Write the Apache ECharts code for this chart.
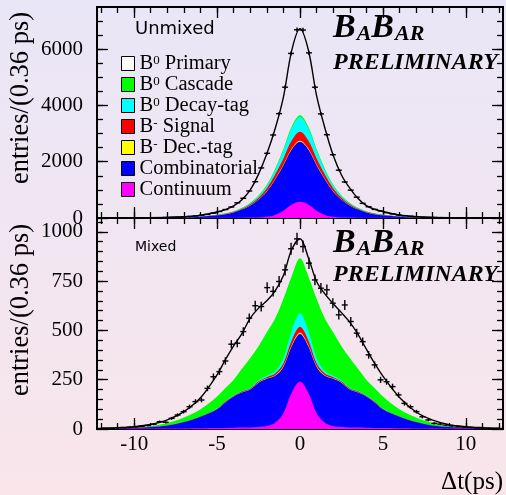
<!DOCTYPE html>
<html><head><meta charset="utf-8">
<script src="https://cdn.jsdelivr.net/npm/echarts@6/dist/echarts.min.js"></script>
<style>html,body{margin:0;padding:0;}#c{width:506px;height:495px;}</style>
</head><body><div id="c"></div>
<script>
// ---- curve grid (Δt, ps) ----
const tGrid = [-12,-11,-10,-9,-8,-7,-6,-5,-4.5,-4,-3.5,-3,-2.5,-2,-1.5,-1,-0.5,0,0.5,1,1.5,2,2.5,3,3.5,4,4.5,5,6,7,8,9,10,11,12];

// ---- Unmixed (top) components ----
const unmixContinuum   = [0,1,1,1,1,2,3,5,6,8,10,14,22,45,110,260,480,580,480,260,110,45,22,14,10,8,6,5,3,2,1,1,1,1,0];
const unmixCombinat    = [1,1,2,5,9,19,43,91,131,191,288,431,626,899,1261,1614,1958,2130,1958,1614,1261,899,626,431,288,191,131,91,43,19,9,5,2,1,1];
const unmixBmDectag    = [0,0,0,0,0,0,1,1,2,3,4,6,9,12,18,24,30,34,30,24,18,12,9,6,4,3,2,1,1,0,0,0,0,0,0];
const unmixBmSignal    = [0,0,0,0,1,2,4,9,13,18,28,42,66,102,156,219,283,319,283,219,156,102,66,42,28,18,13,9,4,2,1,0,0,0,0];
const unmixB0Dectag    = [0,0,0,0,1,1,3,6,8,13,20,32,54,91,164,285,443,531,443,285,164,91,54,32,20,13,8,6,3,1,1,0,0,0,0];
const unmixB0Cascade   = [0,0,0,0,0,1,1,3,5,7,10,16,23,31,41,48,55,55,55,48,41,31,23,16,10,7,5,3,1,1,0,0,0,0,0];
const unmixB0Primary   = [1,2,4,6,10,20,40,100,135,190,290,459,760,1100,1420,1850,2701,3081,2731,1900,1450,1050,730,519,330,200,145,115,50,23,10,6,4,2,1];

// ---- Mixed (bottom) components ----
const mixContinuum  = [1,1,2,2,3,3,4,5,5,6,7,8,10,15,32,80,185,240,185,80,32,15,10,8,7,6,5,5,4,3,3,2,2,1,1];
const mixCombinat   = [1,2,4,8,15,32,58,95,130,159,178,192,225,240,238,235,235,242,235,235,238,240,225,192,178,159,130,95,58,32,15,8,4,2,1];
const mixBmDectag   = [0,0,0,0,0,0,0,1,1,1,1,1,2,2,3,4,5,6,5,4,3,2,2,1,1,1,1,1,0,0,0,0,0,0,0];
const mixBmSignal   = [0,0,0,0,0,1,1,2,3,3,4,4,5,6,8,14,25,31,25,14,8,6,5,4,4,3,3,2,1,1,0,0,0,0,0];
const mixB0Dectag   = [0,0,0,0,0,1,1,2,2,3,3,4,5,7,12,26,50,68,50,26,12,7,5,4,3,3,2,2,1,1,0,0,0,0,0];
const mixB0Cascade  = [0,1,2,5,12,21,36,60,67,78,112,151,173,220,267,301,275,279,275,301,267,220,173,151,112,78,67,60,36,21,12,5,2,1,0];
const mixB0Primary  = [2,3,4,8,16,30,58,110,144,172,179,202,193,160,140,118,135,99,95,88,125,145,170,182,175,155,125,103,60,28,15,7,4,3,2];

// ---- data points (bin centres, 0.36 ps bins) ----
const binCenters = [-12.06,-11.70,-11.34,-10.98,-10.62,-10.26,-9.90,-9.54,-9.18,-8.82,-8.46,-8.10,-7.74,-7.38,-7.02,-6.66,-6.30,-5.94,-5.58,-5.22,-4.86,-4.50,-4.14,-3.78,-3.42,-3.06,-2.70,-2.34,-1.98,-1.62,-1.26,-0.90,-0.54,-0.18,0.18,0.54,0.90,1.26,1.62,1.98,2.34,2.70,3.06,3.42,3.78,4.14,4.50,4.86,5.22,5.58,5.94,6.30,6.66,7.02,7.38,7.74,8.10,8.46,8.82,9.18,9.54,9.90,10.26,10.62,10.98,11.34,11.70,12.06];
const unmixedCounts = [2,3,3,5,5,6,8,9,11,14,17,21,27,34,44,58,75,98,130,172,232,300,390,540,700,960,1290,1780,2300,2950,3710,4650,5850,6690,6680,5870,4650,3700,2960,2250,1700,1280,990,740,520,400,305,250,190,145,105,82,62,47,36,28,21,17,13,11,9,7,6,5,4,3,3,2];
const mixedCounts   = [3,4,4,6,7,9,11,14,18,24,37,34,54,71,88,113,139,147,206,265,291,345,430,435,494,562,625,621,717,698,748,807,914,964,925,841,756,714,706,638,579,629,545,486,443,376,325,249,240,215,173,130,113,88,62,46,29,25,20,16,12,10,8,6,5,4,3,3];

// ---- ticks ----
const xMajor = [-10,-5,0,5,10];
const xMinor = [-12,-11,-10,-9,-8,-7,-6,-5,-4,-3,-2,-1,0,1,2,3,4,5,6,7,8,9,10,11,12];
const yTopMajor = [0,2000,4000,6000];
const yTopMinor = [500,1000,1500,2000,2500,3000,3500,4000,4500,5000,5500,6000,6500,7000];
const yBotMajor = [0,250,500,750,1000];
const yBotMinor = [50,100,150,200,250,300,350,400,450,500,550,600,650,700,750,800,850,900,950,1000,1050];

// stacking order bottom -> top
const names = ['Continuum','Combinatorial','B- Dec.-tag','B- Signal','B0 Decay-tag','B0 Cascade','B0 Primary'];
const colors = ['#ff00ff','#0000ff','#ffff00','#ff0000','#00ffff','#00ff00','#ffffff'];
const legendNames = ['B0 Primary','B0 Cascade','B0 Decay-tag','B- Signal','B- Dec.-tag','Combinatorial','Continuum'];
const legendText = {
  'B0 Primary':'{t|B}{s|0}{t| Primary}',
  'B0 Cascade':'{t|B}{s|0}{t| Cascade}',
  'B0 Decay-tag':'{t|B}{s|0}{t| Decay-tag}',
  'B- Signal':'{t|B}{s|-}{t| Signal}',
  'B- Dec.-tag':'{t|B}{s|-}{t| Dec.-tag}',
  'Combinatorial':'{t|Combinatorial}',
  'Continuum':'{t|Continuum}'
};

const SERIF = 'Liberation Serif';
const XMIN = -12.24, XMAX = 12.24;

function xAxis(grid, pos, vals, len, labels){
  return {type:'value', gridIndex:grid, position:pos, min:XMIN, max:XMAX,
    axisLine:{show:true, onZero:false, lineStyle:{color:'#000', width:2}},
    axisTick:{show:true, inside:true, length:len, customValues:vals, lineStyle:{color:'#000', width:1.3}},
    axisLabel:{show:labels, customValues:vals, margin:5, color:'#000', fontFamily:SERIF, fontSize:21, formatter:v=>String(v)},
    splitLine:{show:false}};
}
function yAxis(grid, pos, max, vals, len, labels){
  return {type:'value', gridIndex:grid, position:pos, min:0, max:max,
    axisLine:{show:true, onZero:false, lineStyle:{color:'#000', width:2}},
    axisTick:{show:true, inside:true, length:len, customValues:vals, lineStyle:{color:'#000', width:1.3}},
    axisLabel:{show:labels, customValues:vals, margin:14, color:'#000', fontFamily:SERIF, fontSize:21, formatter:v=>String(v)},
    splitLine:{show:false}};
}

const comps = {
  top:[unmixContinuum,unmixCombinat,unmixBmDectag,unmixBmSignal,unmixB0Dectag,unmixB0Cascade,unmixB0Primary],
  bot:[mixContinuum,mixCombinat,mixBmDectag,mixBmSignal,mixB0Dectag,mixB0Cascade,mixB0Primary]
};

// cumulative stack tops (built from the component arrays)
function cumulate(list){
  const out = []; let run = tGrid.map(()=>0);
  list.forEach(arr=>{ run = run.map((v,j)=>v+arr[j]); out.push(run.slice()); });
  return out;
}

const series = [];
[['top',0],['bot',4]].forEach(([key, ax])=>{
  const cum = cumulate(comps[key]);
  // filled areas drawn from the highest layer down so lower layers paint over
  for(let i=5;i>=0;i--){
    series.push({
      type:'line', name:names[i], xAxisIndex:ax, yAxisIndex:ax,
      data: tGrid.map((t,j)=>[t, cum[i][j]]),
      smooth:0.35, symbol:'none', showSymbol:false, silent:true,
      itemStyle:{color:colors[i]},
      lineStyle:{width:0, opacity:0},
      areaStyle:{color:colors[i], opacity:1},
      z:2
    });
  }
  series.push({
    type:'line', name:names[6], xAxisIndex:ax, yAxisIndex:ax,
    data: tGrid.map((t,j)=>[t, cum[6][j]]),
    smooth:0.35, symbol:'none', showSymbol:false, silent:true,
    itemStyle:{color:colors[6]},
    lineStyle:{color:'#000', width:1.4},
    z:4
  });
});

function renderPt(params, api){
  const x = api.value(0), y = api.value(1);
  const e = Math.sqrt(Math.max(y,1));
  const l = api.coord([x-0.18, y]), r = api.coord([x+0.18, y]);
  const t = api.coord([x, y+e]), b = api.coord([x, y-e]);
  const st = {stroke:'#000', lineWidth:1.4};
  return {type:'group', children:[
    {type:'line', shape:{x1:l[0],y1:l[1],x2:r[0],y2:r[1]}, style:st},
    {type:'line', shape:{x1:t[0],y1:t[1],x2:b[0],y2:b[1]}, style:st}
  ]};
}
series.push({type:'custom', name:'dataTop', xAxisIndex:0, yAxisIndex:0, clip:true, z:6, silent:true,
  renderItem:renderPt, data: binCenters.map((x,i)=>[x, unmixedCounts[i]])});
series.push({type:'custom', name:'dataBot', xAxisIndex:4, yAxisIndex:4, clip:true, z:6, silent:true,
  renderItem:renderPt, data: binCenters.map((x,i)=>[x, mixedCounts[i]])});

const option = {
  animation:false,
  backgroundColor:{type:'linear', x:0, y:0, x2:0, y2:1, colorStops:[
    {offset:0, color:'#e9e6f7'}, {offset:1, color:'#f9e5ea'}]},
  grid:[
    {left:97, right:3, top:7, height:211},
    {left:97, right:3, top:218, height:211}
  ],
  xAxis:[
    xAxis(0,'bottom',xMajor,11,false), xAxis(0,'bottom',xMinor,6,false),
    xAxis(0,'top',xMajor,11,false), xAxis(0,'top',xMinor,6,false),
    xAxis(1,'bottom',xMajor,11,true), xAxis(1,'bottom',xMinor,6,false),
    xAxis(1,'top',xMajor,11,false), xAxis(1,'top',xMinor,6,false)
  ],
  yAxis:[
    yAxis(0,'left',7500,yTopMajor,11,true), yAxis(0,'left',7500,yTopMinor,6,false),
    yAxis(0,'right',7500,yTopMajor,11,false), yAxis(0,'right',7500,yTopMinor,6,false),
    yAxis(1,'left',1070,yBotMajor,11,true), yAxis(1,'left',1070,yBotMinor,6,false),
    yAxis(1,'right',1070,yBotMajor,11,false), yAxis(1,'right',1070,yBotMinor,6,false)
  ],
  legend:{
    data:legendNames, orient:'vertical', left:121, top:53, itemGap:0, padding:0,
    itemWidth:13, itemHeight:14, icon:'rect', selectedMode:false,
    itemStyle:{borderColor:'#000', borderWidth:1},
    formatter:n=>legendText[n],
    textStyle:{padding:0, rich:{
      t:{fontFamily:SERIF, fontSize:20.5, lineHeight:19.8, color:'#000'},
      s:{fontFamily:SERIF, fontSize:13, lineHeight:11, verticalAlign:'top', color:'#000'}
    }}
  },
  graphic:[
    {type:'text', x:21, y:98, rotation:Math.PI/2, style:{text:'entries/(0.36 ps)', font:'26.5px "Liberation Serif"', fill:'#000', textAlign:'center', textVerticalAlign:'middle'}},
    {type:'text', x:21, y:310, rotation:Math.PI/2, style:{text:'entries/(0.36 ps)', font:'26.5px "Liberation Serif"', fill:'#000', textAlign:'center', textVerticalAlign:'middle'}},
    {type:'text', x:503, y:482, style:{text:'Δt(ps)', font:'25px "Liberation Serif"', fill:'#000', textAlign:'right', textVerticalAlign:'middle'}},
    {type:'text', x:135, y:29, style:{text:'Unmixed', font:'18px "DejaVu Sans"', fill:'#000', textAlign:'left', textVerticalAlign:'middle'}},
    {type:'text', x:135, y:247, style:{text:'Mixed', font:'14px "DejaVu Sans"', fill:'#000', textAlign:'left', textVerticalAlign:'middle'}},
    {type:'text', x:333, y:11, style:{text:'{b|B}{a|A}{b|B}{a|AR}', textAlign:'left', textVerticalAlign:'top',
      rich:{b:{font:'italic bold 34px "Liberation Serif"', lineHeight:34, verticalAlign:'bottom', fill:'#000'},
            a:{font:'italic bold 22px "Liberation Serif"', lineHeight:27, verticalAlign:'bottom', fill:'#000', padding:[0,0,0,1]}}}},
    {type:'text', x:333, y:51, style:{text:'PRELIMINARY', font:'italic bold 24px "Liberation Serif"', fill:'#000', textAlign:'left', textVerticalAlign:'top'}},
    {type:'text', x:333, y:226, style:{text:'{b|B}{a|A}{b|B}{a|AR}', textAlign:'left', textVerticalAlign:'top',
      rich:{b:{font:'italic bold 34px "Liberation Serif"', lineHeight:34, verticalAlign:'bottom', fill:'#000'},
            a:{font:'italic bold 22px "Liberation Serif"', lineHeight:27, verticalAlign:'bottom', fill:'#000', padding:[0,0,0,1]}}}},
    {type:'text', x:333, y:263, style:{text:'PRELIMINARY', font:'italic bold 24px "Liberation Serif"', fill:'#000', textAlign:'left', textVerticalAlign:'top'}}
  ],
  series:series
};
const chart = echarts.init(document.getElementById('c'), null, {renderer:'canvas'});
chart.setOption(option);
</script></body></html>
